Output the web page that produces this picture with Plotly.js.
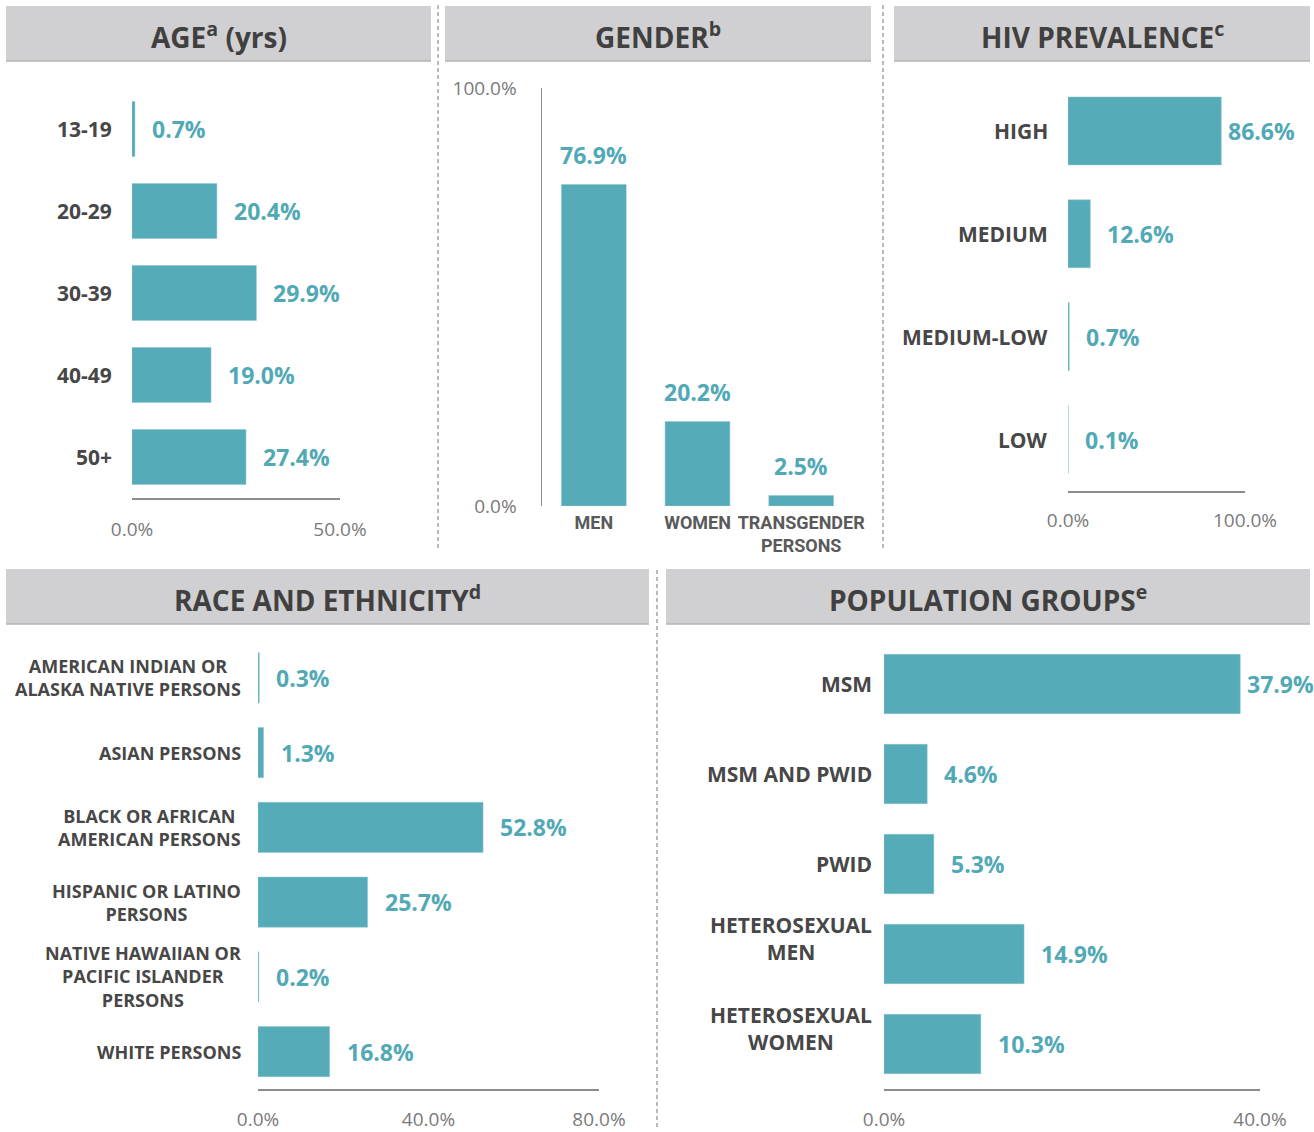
<!DOCTYPE html>
<html>
<head>
<meta charset="utf-8">
<script src="https://cdn.plot.ly/plotly-3.0.1.min.js"></script>
<style>html,body{margin:0;padding:0;background:#fff}#chart{width:1314px;height:1132px}</style>
</head>
<body>
<div id="chart"></div>
<script>
// ---- data ----
const ageCats = ['13-19', '20-29', '30-39', '40-49', '50+'];
const ageVals = [0.7, 20.4, 29.9, 19.0, 27.4];
const ageTicks = [0, 50];

const genderCats = ['MEN', 'WOMEN', 'TRANSGENDER<br>PERSONS'];
const genderVals = [76.9, 20.2, 2.5];
const genderTicks = [0, 100];

const hivCats = ['HIGH', 'MEDIUM', 'MEDIUM-LOW', 'LOW'];
const hivVals = [86.6, 12.6, 0.7, 0.1];
const hivTicks = [0, 100];

const raceCats = ['AMERICAN INDIAN OR<br>ALASKA NATIVE PERSONS', 'ASIAN PERSONS', 'BLACK OR AFRICAN<br>AMERICAN PERSONS', 'HISPANIC OR LATINO<br>PERSONS', 'NATIVE HAWAIIAN OR<br>PACIFIC ISLANDER<br>PERSONS', 'WHITE PERSONS'];
const raceVals = [0.3, 1.3, 52.8, 25.7, 0.2, 16.8];
const raceTicks = [0, 40, 80];

const popCats = ['MSM', 'MSM AND PWID', 'PWID', 'HETEROSEXUAL<br>MEN', 'HETEROSEXUAL<br>WOMEN'];
const popVals = [37.9, 4.6, 5.3, 14.9, 10.3];
const popTicks = [0, 40];

const titles = ['AGE<sup>a</sup> (yrs)', 'GENDER<sup>b</sup>', 'HIV PREVALENCE<sup>c</sup>', 'RACE AND ETHNICITY<sup>d</sup>', 'POPULATION GROUPS<sup>e</sup>'];

// ---- styling ----
const W = 1314, H = 1132;
const px = x => x / W;
const py = y => 1 - y / H;
const BAR = '#55abb8';
const VAL = '#52a9b6';
const CAT = '#474747';
const TICK = '#7a7a7a';
const FONT = '"Open Sans", "Noto Sans", sans-serif';
const NARROW = 'Roboto, "Liberation Sans", sans-serif';
const fmt = v => v.toFixed(1) + '%';

const traces = [];
const annotations = [];
const shapes = [];
const layout = {
  width: W, height: H, margin: {l: 0, r: 0, t: 0, b: 0},
  paper_bgcolor: '#fff', plot_bgcolor: 'rgba(0,0,0,0)',
  showlegend: false, font: {family: FONT},
  annotations, shapes
};

function hPanel(idx, cats, vals, ticks, dom, maxv, opts) {
  const sfx = idx === 1 ? '' : String(idx);
  const xa = 'xaxis' + sfx, ya = 'yaxis' + sfx, xr = 'x' + sfx, yr = 'y' + sfx;
  traces.push({
    type: 'bar', orientation: 'h', x: vals, y: cats, xaxis: xr, yaxis: yr,
    width: opts.bw, marker: {color: BAR, line: {color: '#8fc4cc', width: 0.5}},
    hoverinfo: 'skip'
  });
  layout[xa] = {
    domain: [px(dom[0]), px(dom[2])], anchor: yr, range: [0, maxv],
    showgrid: false, zeroline: false, showline: true, linecolor: '#8c8c8c', linewidth: 1.5,
    tickvals: ticks, ticktext: ticks.map(fmt), ticks: '', tickangle: 0,
    tickfont: {family: FONT, size: 19, color: TICK}, ticklabelstandoff: opts.standoff,
    fixedrange: true
  };
  layout[ya] = {
    domain: [py(dom[3]), py(dom[1])], anchor: xr, type: 'category',
    categoryorder: 'array', categoryarray: cats,
    range: [cats.length - 0.5, -0.5], showgrid: false, zeroline: false,
    showline: false, showticklabels: false, ticks: '', fixedrange: true
  };
  cats.forEach((c, i) => {
    annotations.push({
      xref: xr + ' domain', yref: yr, x: 0, y: c, xanchor: 'right', yanchor: 'middle',
      xshift: -opts.gap, yshift: c.indexOf('<br>') >= 0 ? (opts.multiShift || 0) : 0,
      text: c, showarrow: false, align: 'center',
      font: {family: FONT, size: opts.catSize, color: CAT, weight: 700}
    });
    annotations.push({
      xref: xr, yref: yr, x: vals[i], y: c, xanchor: 'left', yanchor: 'middle',
      xshift: vals[i] > maxv * 0.8 ? 5 : 15, text: fmt(vals[i]), showarrow: false,
      font: {family: FONT, size: 23, color: VAL, weight: 700}
    });
  });
}

// Age
hPanel(1, ageCats, ageVals, ageTicks, [132, 88, 340, 498], 50, {bw: 0.67, gap: 18, catSize: 21, standoff: 14});
// HIV prevalence
hPanel(3, hivCats, hivVals, hivTicks, [1068, 79.5, 1245, 491], 100, {bw: 0.66, gap: 18, catSize: 21, standoff: 12});
// Race
hPanel(4, raceCats, raceVals, raceTicks, [258, 640.5, 599, 1089], 80, {bw: 0.67, gap: 15, catSize: 18, standoff: 13});
// Population groups
hPanel(5, popCats, popVals, popTicks, [884, 639, 1260, 1089], 40, {bw: 0.66, gap: 10, catSize: 21, standoff: 13, multiShift: 16});

// Gender (vertical bars)
traces.push({
  type: 'bar', x: genderCats, y: genderVals, xaxis: 'x2', yaxis: 'y2', width: 0.625,
  marker: {color: BAR, line: {color: '#8fc4cc', width: 0.5}}, hoverinfo: 'skip'
});
layout.xaxis2 = {
  domain: [px(542), px(853)], anchor: 'y2', type: 'category',
  categoryorder: 'array', categoryarray: genderCats, range: [-0.5, 2.5],
  showgrid: false, zeroline: false, showline: false, ticks: '', tickangle: 0,
  tickfont: {family: NARROW, size: 18, color: '#5a5a5a', weight: 700},
  ticklabelstandoff: 4, fixedrange: true
};
layout.yaxis2 = {
  domain: [py(506), py(88)], anchor: 'x2', range: [0, 100],
  showgrid: false, zeroline: false, showline: true, linecolor: '#8c8c8c', linewidth: 1.5,
  tickvals: genderTicks, ticktext: genderTicks.map(fmt), ticks: '',
  tickfont: {family: FONT, size: 19, color: TICK}, ticklabelstandoff: 20, fixedrange: true
};
genderCats.forEach((c, i) => {
  annotations.push({
    xref: 'x2', yref: 'y2', x: c, y: genderVals[i], xanchor: 'center', yanchor: 'bottom',
    yshift: 12, text: fmt(genderVals[i]), showarrow: false,
    font: {family: FONT, size: 23, color: VAL, weight: 700}
  });
});

// Header boxes and titles
const boxes = [[6, 6, 431, 61], [445, 6, 871, 61], [894, 6, 1310, 61], [6, 569, 649, 624], [666, 569, 1310, 624]];
boxes.forEach((b, i) => {
  shapes.push({type: 'rect', xref: 'paper', yref: 'paper', x0: px(b[0]), x1: px(b[2]), y0: py(b[3]), y1: py(b[1]),
    fillcolor: '#d0cfd1', line: {width: 0}, layer: 'below'});
  shapes.push({type: 'line', xref: 'paper', yref: 'paper', x0: px(b[0]), x1: px(b[2]), y0: py(b[3]), y1: py(b[3]),
    line: {color: '#b5b5b5', width: 1.5}});
  annotations.push({xref: 'paper', yref: 'paper', x: px((b[0] + b[2]) / 2), y: py((b[1] + b[3]) / 2 + 1.5),
    xanchor: 'center', yanchor: 'middle', text: titles[i], showarrow: false,
    font: {family: FONT, size: 28, color: '#404040', weight: 700}});
});

// Dashed separators
[[438, 5, 548], [883, 5, 550], [657, 570, 1128]].forEach(s => {
  shapes.push({type: 'line', xref: 'paper', yref: 'paper', x0: px(s[0]), x1: px(s[0]), y0: py(s[1]), y1: py(s[2]),
    line: {color: '#8a8a8a', width: 1.2, dash: '4px,3px'}});
});

Plotly.newPlot('chart', traces, layout, {displayModeBar: false, staticPlot: true});
</script>
</body>
</html>
